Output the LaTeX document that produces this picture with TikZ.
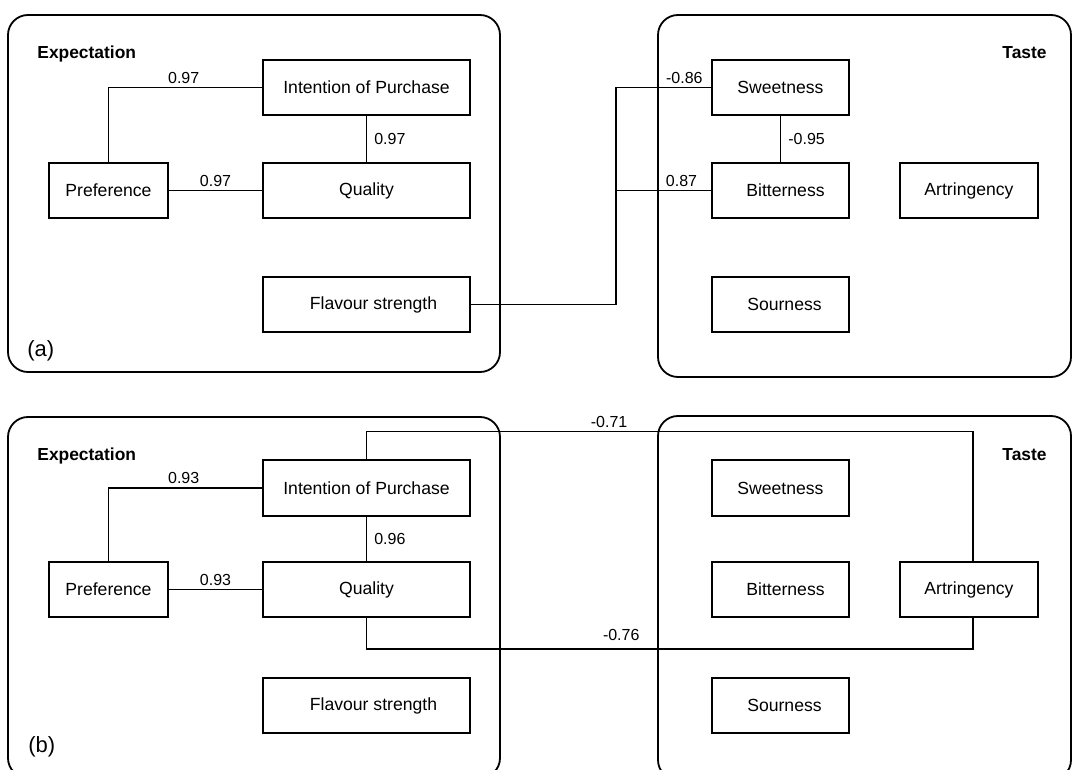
\documentclass[tikz,border=0pt]{standalone}
\usepackage{fontspec}
\setmainfont{Liberation Sans}
\usetikzlibrary{positioning,calc}

\begin{document}
\begin{tikzpicture}[x=0.5pt,y=-0.5pt,
    every node/.style={font=\fontsize{8.8}{10}\selectfont},
    var/.style={shape=rectangle,draw,line width=1pt,inner sep=0pt,minimum height=27.5pt},
    wide/.style={var,minimum width=103.5pt},
    short/.style={var,minimum width=68.5pt},
    group/.style={shape=rectangle,draw,line width=0.9pt,rounded corners=10pt,inner sep=0pt},
    lbl/.style={draw=none,inner sep=1.5pt,font=\fontsize{8}{9}\selectfont},
    title/.style={draw=none,inner sep=0pt,font=\fontsize{8.7}{10}\selectfont\bfseries},
    tag/.style={draw=none,inner sep=0pt,font=\fontsize{11}{12}\selectfont},
    link/.style={line width=0.85pt}]
    \useasboundingbox (0,0) rectangle (1072,770);
    % create the groups
    \node (expA)   [group, minimum width=246pt, minimum height=178.5pt] at (254,193.5) {};
    \node (tasteA) [group, minimum width=206.5pt, minimum height=181pt] at (864.5,196) {};
    \node (expB)   [group, minimum width=246pt, minimum height=180.5pt] at (254,597.5) {};
    \node (tasteB) [group, minimum width=206.5pt, minimum height=182pt] at (864.5,598) {};
    \node (titleExpA)   [title, anchor=base west] at (37,59) {Expectation};
    \node (titleTasteA) [title, anchor=base east] at (1047,59) {Taste};
    \node (titleExpB)   [title, anchor=base west] at (37,460) {Expectation};
    \node (titleTasteB) [title, anchor=base east] at (1047,460) {Taste};
    \node (tagA) [tag, anchor=base west] at (27,357) {(a)};
    \node (tagB) [tag, anchor=base west] at (28,752) {(b)};

    % create the nodes (a)
    \node (intA)   [wide] at (366.5,87.5) {Intention of Purchase};
    \node (qualA)  [wide] at (366.5,190.5) {Quality};
    \node (prefA)  [var, minimum width=59.5pt] at (108.5,190.5) {Preference};
    \node (flavA)  [wide] at (366.5,304.5) {\hspace*{7pt}Flavour strength};
    \node (sweetA) [short] at (780.5,87.5) {Sweetness};
    \node (bitA)   [short] at (780.5,190.5) {\hspace*{5pt}Bitterness};
    \node (artA)   [short, minimum width=69pt] at (969,190.5) {Artringency};
    \node (sourA)  [short] at (780.5,304.5) {\hspace*{4pt}Sourness};
    \coordinate (joinA) at (616,304.5);

    % create the nodes (b)
    \node (intB)   [wide] at (366.5,488) {Intention of Purchase};
    \node (qualB)  [wide] at (366.5,589.5) {Quality};
    \node (prefB)  [var, minimum width=59.5pt] at (108.5,589.5) {Preference};
    \node (flavB)  [wide] at (366.5,705.5) {\hspace*{7pt}Flavour strength};
    \node (sweetB) [short] at (780.5,488) {Sweetness};
    \node (bitB)   [short] at (780.5,589.5) {\hspace*{5pt}Bitterness};
    \node (artB)   [short, minimum width=69pt] at (969,589.5) {Artringency};
    \node (sourB)  [short] at (780.5,705.5) {\hspace*{4pt}Sourness};

    % connect the nodes (a)
    \draw[link] (prefA.north) |- node[lbl, pos=0.745, above] {0.97} (intA.west);
    \draw[link] (intA) -- node[lbl, right, xshift=2pt] {0.97} (qualA);
    \draw[link] (prefA) -- node[lbl, above] {0.97} (qualA);
    \draw[link] (flavA.east) -- (joinA) |- node[lbl, pos=0.86, above] {-0.86} (sweetA.west);
    \draw[link] (joinA |- bitA.west) -- node[lbl, pos=0.69, above] {0.87} (bitA.west);
    \draw[link] (sweetA) -- node[lbl, right, xshift=2pt] {-0.95} (bitA);

    % connect the nodes (b)
    \draw[link] (prefB.north) |- node[lbl, pos=0.745, above] {0.93} (intB.west);
    \draw[link] (intB) -- node[lbl, right, xshift=2pt] {0.96} (qualB);
    \draw[link] (prefB) -- node[lbl, above] {0.93} (qualB);
    \draw[link] (intB.north) -- ++(0,-28) -| node[lbl, pos=0.2, above] {-0.71} ([xshift=2pt]artB.north);
    \draw[link] (qualB.south) -- ++(0,31) -| node[lbl, pos=0.21, above, yshift=2pt] {-0.76} ([xshift=2pt]artB.south);
\end{tikzpicture}
\end{document}
